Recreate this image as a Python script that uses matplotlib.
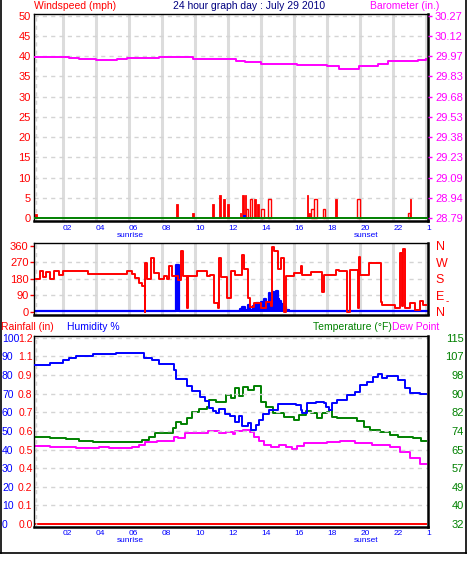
import matplotlib
matplotlib.use('Agg')
import matplotlib.pyplot as plt
from matplotlib.lines import Line2D

plt.rcParams['font.family'] = ['Liberation Sans', 'DejaVu Sans']

W, H = 467, 566

# ---------------- data ----------------
hour_ticks = [2, 4, 6, 8, 10, 12, 14, 16, 18, 20, 22, 24]
hour_labels = ['02', '04', '06', '08', '10', '12', '14', '16', '18', '20', '22', '1']

speed_ticks = [0, 5, 10, 15, 20, 25, 30, 35, 40, 45, 50]
baro_ticks = [28.79, 28.938, 29.086, 29.234, 29.382, 29.53, 29.678, 29.826, 29.974, 30.122, 30.27]
baro_labels = ['28.79', '28.94', '29.09', '29.23', '29.38', '29.53', '29.68', '29.83', '29.97', '30.12', '30.27']

baro_hours = [0.3, 1.5, 2.4, 3.0, 4.0, 5.3, 5.9, 7.8, 8.7, 9.9, 12.0, 12.5, 13.0, 14.0,
              16.2, 18.0, 18.7, 19.9, 21.1, 21.7, 23.5, 24.0]
baro_values = [29.970, 29.965, 29.958, 29.955, 29.948, 29.955, 29.962, 29.970, 29.965,
               29.955, 29.950, 29.940, 29.930, 29.920, 29.910, 29.905, 29.880, 29.900,
               29.920, 29.940, 29.945, 29.950]

gust_hours = [0.38, 8.9, 9.87, 11.1, 11.5, 11.76, 12.0, 12.76, 12.9, 13.05, 13.15, 13.4,
              13.65, 13.8, 14.1, 14.5, 16.8, 16.9, 17.1, 17.3, 17.8, 18.55, 19.9, 22.95, 23.05]
gust_mph = [1.0, 3.5, 1.2, 3.5, 5.7, 4.7, 3.5, 1.2, 5.7, 5.7, 2.3, 4.7,
            4.7, 3.5, 2.3, 4.7, 5.7, 1.2, 2.3, 4.7, 2.3, 4.7, 4.7, 1.2, 4.7]
gust_filled = [1, 1, 1, 1, 1, 1, 1, 1, 1, 1, 0, 0,
               1, 1, 0, 0, 1, 1, 0, 0, 0, 1, 0, 0, 1]

avg_hours = [11.8, 13.0, 13.6, 14.5, 16.8, 17.3, 18.6, 19.9]
avg_mph = [0.3, 0.7, 0.3, 0.3, 0.3, 0.3, 0.3, 0.3]

calm_hours = [0.26, 24.1]
calm_mph = [0, 0]

dir_ticks = [0, 90, 180, 270, 360]
dir_letters = ['N', 'E', 'S', 'W', 'N']

dir_hours = [0.37, 0.6, 0.8, 1.0, 1.2, 1.5, 1.8, 2.0, 2.3, 3.5, 5.9, 6.2, 6.4, 6.6, 6.8,
             6.95, 7.0, 7.1, 7.35, 7.5, 7.8, 8.1, 8.3, 8.45, 8.6, 9.0, 9.15, 9.25, 9.5,
             9.6, 10.1, 10.7, 10.9, 11.15, 11.4, 11.45, 11.55, 11.95, 12.15, 12.4, 12.85,
             12.95, 13.2, 13.35, 13.6, 14.0, 14.3, 14.6, 14.65, 14.8, 15.0, 15.2, 15.4,
             15.5, 16.0, 16.4, 16.5, 17.0, 17.7, 17.8, 18.55, 18.7, 19.2, 19.4, 19.85,
             19.9, 20.0, 20.5, 21.25, 21.3, 22.1, 22.4, 22.5, 22.6, 22.7, 23.0, 23.3,
             23.6, 23.8, 24.0]
dir_deg = [180, 222, 190, 215, 180, 220, 200, 220, 222, 204, 222, 205, 182, 154, 138,
           0, 266, 176, 294, 211, 178, 193, 178, 248, 193, 175, 330, 193, 18,
           195, 220, 193, 202, 46, 18, 294, 190, 73, 220, 200, 307,
           231, 77, 27, 46, 20, 55, 30, 354, 330, 231, 294, 0,
           193, 210, 248, 200, 215, 110, 200, 226, 220, 0, 230, 18,
           299, 202, 266, 55, 37, 18, 321, 30, 340, 20, 50, 10,
           60, 37, 37]

dspd_hours = [0.3, 8.85, 9.05, 12.7, 12.85, 13.0, 13.2, 13.35, 13.5, 13.7, 13.85, 14.0,
              14.15, 14.3, 14.45, 14.55, 14.7, 14.8, 14.9, 15.0, 15.1, 15.2, 15.35,
              15.5, 15.7, 24.1]
dspd_vals = [4, 253, 4, 15, 25, 10, 35, 12, 30, 50, 30, 55,
             70, 45, 100, 75, 110, 80, 112, 70, 60, 40, 25,
             10, 4, 4]

hum_ticks = [0, 10, 20, 30, 40, 50, 60, 70, 80, 90, 100]
rain_labels = ['0.0', '0.1', '0.2', '0.4', '0.5', '0.6', '0.7', '0.8', '0.9', '1.1', '1.2']
temp_ticks = [32, 40.3, 48.6, 56.9, 65.2, 73.5, 81.8, 90.1, 98.4, 106.7, 115]
temp_labels = ['32', '40', '49', '57', '65', '74', '82', '90', '98', '107', '115']

hum_hours = [0.35, 1.2, 2.0, 2.4, 2.8, 3.8, 5.25, 6.9, 7.4, 7.8, 8.75, 8.85, 9.5, 9.8,
             10.3, 10.6, 10.85, 11.1, 11.3, 11.45, 11.8, 12.1, 12.45, 12.65, 12.85, 13.2,
             13.4, 13.7, 13.9, 14.1, 14.5, 15.0, 16.1, 16.4, 16.5, 16.8, 17.3, 17.8, 17.9,
             18.1, 18.3, 18.6, 19.2, 19.7, 20.0, 20.4, 20.8, 21.1, 21.3, 21.6, 22.3, 22.7,
             23.0, 23.6, 24.0]
hum_vals = [85.5, 86.7, 88, 89, 90.3, 91.2, 91.8, 89.4, 88, 85.8, 83, 78, 74, 71.5,
            68, 66, 62.5, 60.8, 59.5, 62, 59, 58, 55, 58, 52.5, 54,
            50.5, 53, 56, 59, 61.3, 64.4, 64, 61.3, 59.5, 65, 65.8, 65, 63,
            61.3, 65, 66.7, 69.4, 71, 74.7, 76.5, 79.2, 80.6, 78.3, 79.7, 77.4, 73,
            70.3, 69.7, 69.7]

temp_hours = [0.35, 1.2, 2.2, 3.0, 3.8, 4.6, 6.4, 6.8, 7.2, 7.6, 8.45, 8.65, 8.85, 9.15,
              9.5, 9.8, 10.25, 10.7, 10.85, 11.3, 11.65, 11.9, 12.2, 12.4, 12.65, 12.9,
              13.2, 13.6, 14.0, 14.3, 14.7, 15.4, 16.0, 16.3, 16.7, 17.0, 17.4, 17.7,
              18.0, 18.1, 18.3, 18.6, 19.8, 20.2, 20.6, 21.2, 21.8, 22.3, 23.2, 23.7, 24.0]
temp_vals = [71.0, 70.5, 69.9, 69.0, 68.5, 68.4, 68.4, 69.5, 71.0, 72.7, 72.4, 74.7, 77.7, 76.8,
             79.1, 82.1, 83.2, 84.0, 87.4, 86.2, 86.4, 89.6, 88.4, 92.6, 88.9, 93.3,
             91.8, 93.6, 86.6, 84.0, 81.4, 79.9, 78.5, 80.6, 82.6, 81.4, 79.1, 81.4,
             81.8, 83.0, 79.9, 79.1, 78.1, 75.4, 73.9, 72.9, 71.7, 70.7, 70.2, 69.0, 69.0]

dew_hours = [0.35, 1.2, 2.8, 4.2, 4.8, 6.2, 6.6, 7.0, 7.7, 8.75, 9.0, 9.4, 10.2, 10.8,
             11.45, 11.9, 12.3, 12.4, 12.9, 13.3, 13.6, 13.9, 14.2, 14.6, 15.1, 15.5,
             15.9, 16.2, 16.6, 17.2, 18.0, 18.8, 19.7, 20.7, 21.8, 22.4, 23.0, 23.6, 24.0]
dew_vals = [66.9, 66.5, 66.0, 66.3, 65.8, 66.3, 67.3, 68.4, 69.0, 71.0, 70.2, 72.4, 72.7, 73.5,
            72.4, 73.1, 72.1, 73.5, 73.9, 73.1, 71.0, 68.8, 67.3, 66.5, 67.3, 66.3,
            65.4, 66.9, 68.3, 68.0, 68.4, 68.8, 68.3, 67.3, 66.3, 64.3, 61.3, 58.8, 58.8]

rain_hours = [0.26, 24.0]
rain_vals = [0.0, 0.0]

# ---------------- styles ----------------
RED = '#ff0000'
MAG = '#ff00ff'
BLUE = '#0000ff'
GREEN = '#008000'
NAVY = '#000080'
GRID = '#d4d4d4'
VGRID = '#dcdcdc'
XLIM = (0.26, 24.1)
TICKFS = 8
PT = 72.0 / 100.0   # points per pixel

fig = plt.figure(figsize=(W / 100, H / 100), dpi=100)


def px_axes(left, top, right, bottom):
    return fig.add_axes([left / W, 1 - bottom / H, (right - left) / W, (bottom - top) / H])


def style_frame(ax):
    for s in ['left', 'top']:
        ax.spines[s].set_linewidth(1.0)
    for s in ['right', 'bottom']:
        ax.spines[s].set_linewidth(1.8)
    for s in ax.spines.values():
        s.set_color('black')


def fig_text(x, y, s, **kw):
    fig.text(x / W, 1 - y / H, s, **kw)


def hgrid(ax, levels):
    for v in levels:
        ax.axhline(v, color=GRID, lw=1.0, ls=(0, (3, 3)), zorder=0.5)


def vgrid(ax):
    for h in hour_ticks:
        ax.axvline(h, color=VGRID, lw=2.2, zorder=0.4)
    ax.axvline(0.38, color=GRID, lw=1.0, ls=(0, (3, 3)), zorder=0.5)


def xticks(ax, pad):
    ax.set_xticks(hour_ticks)
    ax.set_xticklabels(hour_labels, fontsize=6, color=BLUE, ha='left')
    ax.tick_params(axis='x', length=0, pad=pad)


# ---------------- top panel: wind speed + barometer ----------------
ax1 = px_axes(34, 14, 428, 220.5)
ax1.set_xlim(*XLIM)
ax1.set_ylim(-0.55, 50.4)
style_frame(ax1)
vgrid(ax1)
hgrid(ax1, speed_ticks[1:])
for h, v, f in zip(gust_hours, gust_mph, gust_filled):
    if f:
        ax1.bar(h, v, width=0.1, color=RED, edgecolor=RED, lw=0.6, zorder=2)
    else:
        ax1.bar(h, v, width=0.16, facecolor='white', edgecolor=RED, lw=1.0, zorder=2)
ax1.bar(avg_hours, avg_mph, width=0.2, color=BLUE, zorder=3)
ax1.step(calm_hours, calm_mph, where='post', color=GREEN, lw=1.4, zorder=4)
ax1.set_yticks(speed_ticks)
ax1.set_yticklabels([str(v) for v in speed_ticks], fontsize=TICKFS, color=RED)
ax1.tick_params(axis='y', length=0, pad=2.2)
xticks(ax1, 3.2)

ax1b = ax1.twinx()
ax1b.set_xlim(*XLIM)
k = 1.48 / 50
ax1b.set_ylim(28.79 - 0.55 * k, 28.79 + 50.4 * k)
ax1b.step(baro_hours, baro_values, where='post', color=MAG, lw=1.4, zorder=5)
ax1b.set_yticks(baro_ticks)
ax1b.set_yticklabels(baro_labels, fontsize=TICKFS, color=MAG)
ax1b.tick_params(axis='y', length=3.0, width=1.0, color=MAG, pad=2.0)
for s in ax1b.spines.values():
    s.set_visible(False)

# ---------------- middle panel: wind direction ----------------
ax2 = px_axes(34, 243.5, 428, 314.5)
ax2.set_xlim(*XLIM)
ax2.set_ylim(-15, 372)
style_frame(ax2)
vgrid(ax2)
hgrid(ax2, [90, 180, 270])
ax2.fill_between(dspd_hours, 0, dspd_vals, step='post', color=BLUE, lw=0, zorder=2)
ax2.step(dspd_hours, dspd_vals, where='post', color=BLUE, lw=1.6, zorder=2)
ax2.step(dir_hours, dir_deg, where='post', color=RED, lw=1.4, zorder=3)
ax2.set_yticks(dir_ticks)
ax2.set_yticklabels([str(v) for v in dir_ticks], fontsize=TICKFS, color=RED)
ax2.tick_params(axis='y', length=3.0, width=1.0, color=RED, pad=1.0)
ax2.set_xticks([])

ax2b = ax2.twinx()
ax2b.set_ylim(-15, 372)
ax2b.set_yticks(dir_ticks)
ax2b.set_yticklabels(dir_letters, fontsize=9, color=RED)
ax2b.tick_params(axis='y', length=0, pad=5.5)
for s in ax2b.spines.values():
    s.set_visible(False)
fig_text(447, 301, '-', fontsize=7, color=RED, ha='center', va='center')

# ---------------- bottom panel: humidity / rain / temperature ----------------
BFS = 7.5
ax3 = px_axes(34, 336, 428, 527)
ax3.set_xlim(*XLIM)
ax3.set_ylim(-1.6, 101)
style_frame(ax3)
hgrid(ax3, hum_ticks[1:])
ax3.axvline(0.38, color=GRID, lw=1.0, ls=(0, (3, 3)), zorder=0.5)
ax3.step(hum_hours, hum_vals, where='post', color=BLUE, lw=1.4, zorder=4)
ax3.set_yticks(hum_ticks)
ax3.set_yticklabels([str(v) for v in hum_ticks], fontsize=BFS, color=BLUE, ha='left')
ax3.tick_params(axis='y', length=0, pad=32 * PT)
xticks(ax3, 2.5)

ax3r = ax3.twinx()
r = 1.2 / 100
ax3r.set_ylim(-1.6 * r, 101 * r)
ax3r.step(rain_hours, rain_vals, where='post', color=RED, lw=1.4, zorder=2)
ax3r.yaxis.tick_left()
ax3r.set_yticks([v * r for v in hum_ticks])
ax3r.set_yticklabels(rain_labels, fontsize=BFS, color=RED)
ax3r.tick_params(axis='y', length=0, pad=1.0)
for s in ax3r.spines.values():
    s.set_visible(False)

ax3t = ax3.twinx()
t = 83 / 100
ax3t.set_xlim(*XLIM)
ax3t.set_ylim(32 - 1.6 * t, 32 + 101 * t)
ax3t.step(temp_hours, temp_vals, where='post', color=GREEN, lw=1.4, zorder=3)
ax3t.step(dew_hours, dew_vals, where='post', color=MAG, lw=1.4, zorder=3)
ax3t.set_yticks(temp_ticks)
ax3t.set_yticklabels(temp_labels, fontsize=TICKFS, color=GREEN, ha='right')
ax3t.tick_params(axis='y', length=0, pad=36 * PT)
for s in ax3t.spines.values():
    s.set_visible(False)
ax3.set_zorder(ax3t.get_zorder() + 1)
ax3.patch.set_visible(False)

# ---------------- headings ----------------
HFS = 7.5
fig_text(34, 6, 'Windspeed (mph)', fontsize=HFS, color=RED, ha='left', va='center')
fig_text(249, 6, '24 hour graph day : July 29 2010', fontsize=HFS, color=NAVY, ha='center', va='center')
fig_text(439, 6, 'Barometer (in.)', fontsize=HFS, color=MAG, ha='right', va='center')
fig_text(1, 327, 'Rainfall (in)', fontsize=HFS, color=RED, ha='left', va='center')
fig_text(67, 327, 'Humidity %', fontsize=HFS, color=BLUE, ha='left', va='center')
fig_text(313, 327, 'Temperature (°F)', fontsize=HFS, color=GREEN, ha='left', va='center')
fig_text(392, 327, 'Dew Point', fontsize=HFS, color=MAG, ha='left', va='center')

for y in (235, 541):
    fig_text(130.5, y, 'sunrise', fontsize=6, color=BLUE, ha='center', va='center')
    fig_text(366, y, 'sunset', fontsize=6, color=BLUE, ha='center', va='center')

# ---------------- outer frame ----------------
for xs, ys in [((0.6 / W, 0.6 / W), (1.0, 1 - 553 / H)),
               ((466 / W, 466 / W), (1.0, 1 - 553 / H)),
               ((0.0, 1.0), (1 - 553 / H, 1 - 553 / H))]:
    fig.add_artist(Line2D(xs, ys, transform=fig.transFigure, color='black', lw=1.2))

fig.savefig('out.png', dpi=100)
